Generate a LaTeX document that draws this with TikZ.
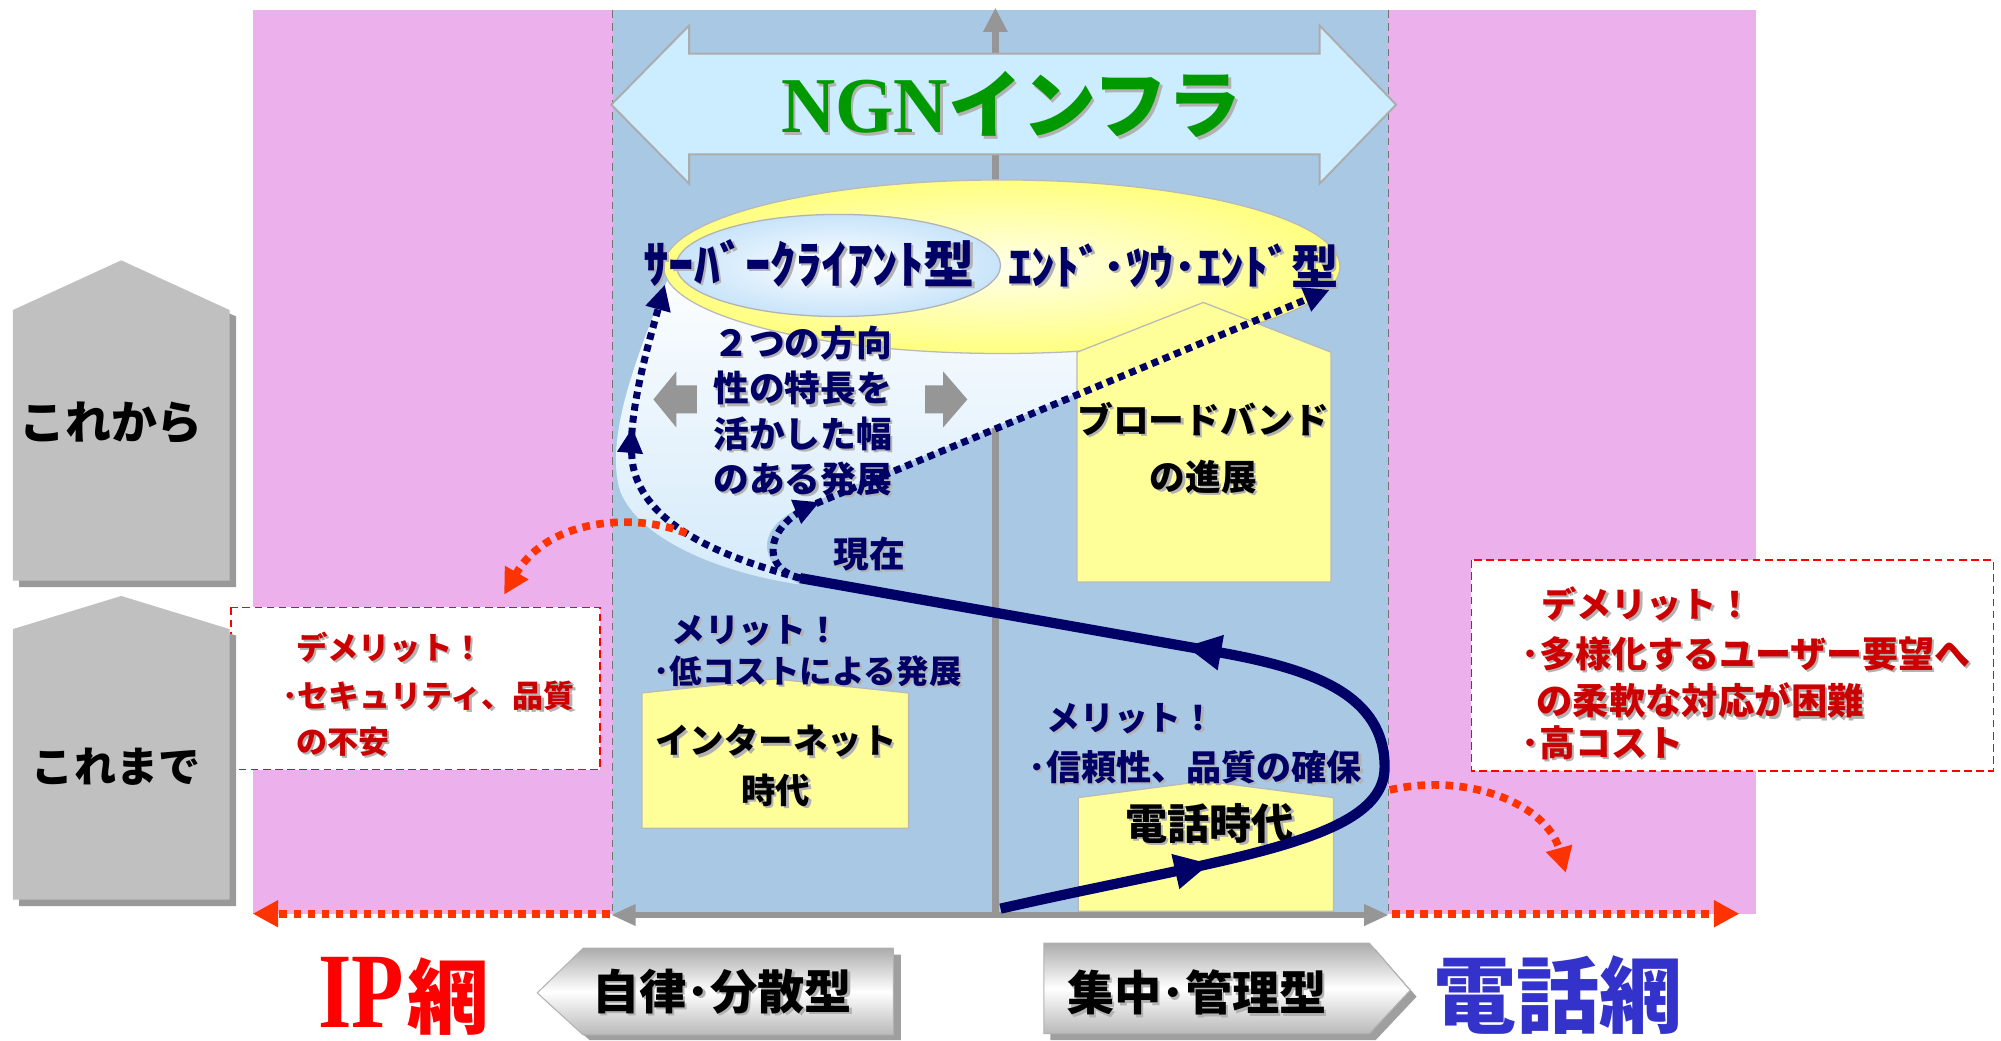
\documentclass[tikz,border=0pt]{standalone}
\usepackage{fontspec}
\usepackage{graphicx}
\newfontfamily\jp{Noto Sans CJK JP}
\newfontfamily\tms{Liberation Serif}
\newfontfamily\tmsn{Liberation Serif}[FakeStretch=0.8]
\newfontfamily\tmsm{Liberation Serif}[FakeStretch=0.95]
\usetikzlibrary{arrows.meta,decorations.markings,calc}
\definecolor{navy}{RGB}{0,0,102}
\definecolor{pinkbg}{RGB}{236,176,236}
\definecolor{bluebg}{RGB}{168,200,228}
\definecolor{ngnblue}{RGB}{204,236,255}
\definecolor{ngngreen}{RGB}{0,153,0}
\definecolor{hyellow}{RGB}{255,255,153}
\definecolor{ellyellow}{RGB}{255,255,128}
\definecolor{ellcenter}{RGB}{255,255,235}
\definecolor{innerblue}{RGB}{200,228,250}
\definecolor{callblue}{RGB}{212,234,250}
\definecolor{dred}{RGB}{204,0,0}
\definecolor{ored}{RGB}{255,51,0}
\definecolor{garr}{RGB}{150,150,150}
\definecolor{pentgray}{RGB}{192,192,192}
\definecolor{telblue}{RGB}{51,51,204}
\newcommand\jf[2]{\fontsize{#1}{#2}\selectfont\jp\bfseries}
\newcommand\shadowlabel[5]{%
  \node[#3,text=black!30] (#1-s) at ($(#2)+(1.8,1.8)$) {#5};
  \node[#3,text=#4] (#1) at (#2) {#5};}
\begin{document}
\begin{tikzpicture}[x=1pt,y=-1pt,
  txt/.style={inner sep=0pt,outer sep=0pt},
  house/.style={fill=hyellow,draw=gray!55,line width=1pt},
  bandline/.style={draw=black!55,line width=1pt,dash pattern=on 6pt off 4pt},
  navydot/.style={draw=navy,line width=5.5pt,dash pattern=on 5.5pt off 4pt},
  reddot/.style={draw=ored,line width=6pt,dash pattern=on 6pt off 5pt},
  navysolid/.style={draw=navy,line width=8pt},
  dembox/.style={fill=white,draw=red,line width=1.2pt,dash pattern=on 6pt off 3.5pt},
  blockarrow/.style={top color=gray!65,bottom color=gray!55,middle color=white,draw=gray!60,line width=0.8pt},
  blockshadow/.style={fill=gray!75},
  pent/.style={fill=pentgray},
  pentshadow/.style={fill=gray!80},
  ngnarrow/.style={fill=ngnblue,draw=gray!65,line width=1.5pt},
  grayblock/.style={fill=garr}
]
\useasboundingbox (0,0) rectangle (1568,815);
\fill[white] (0,0) rectangle (1568,815);

% background bands
\fill[pinkbg] (198,8) rectangle (480,716);
\fill[pinkbg] (1088,8) rectangle (1376,716);
\fill[bluebg] (480,8) rectangle (1088,716);
\draw[bandline] (480,8) -- (480,716);
\draw[bandline] (1088,8) -- (1088,716);

% gray axes
\coordinate (axB) at (780,716);
\coordinate (axT) at (780,6);
\draw[draw=garr,line width=6pt,-{Triangle[length=19pt,width=18pt]}] (axB) -- (axT);
\coordinate (axL) at (479,717);
\coordinate (axR) at (1088,717);
\draw[draw=garr,line width=4pt,{Triangle[length=19pt,width=16pt]}-{Triangle[length=19pt,width=16pt]}] (axL) -- (axR);

% callout region
\shade[top color=white,bottom color=callblue] (526,212) .. controls (505,265) and (472,340) .. (486,385) .. controls (502,425) and (570,450) .. (627,458) .. controls (590,440) and (592,410) .. (636,394) -- (844,308) -- (844,250) -- (700,200) -- cycle;

% ellipses
\path[draw=gray!55,line width=1pt,inner color=ellcenter,outer color=ellyellow] (785,209) ellipse [x radius=265pt,y radius=68pt];
\path[draw=gray!60,line width=1pt,inner color=white,outer color=innerblue] (657,208) ellipse [x radius=127pt,y radius=40pt];

% NGN arrow
\draw[ngnarrow] (479,82) -- (540,20) -- (540,42) -- (1034,42) -- (1034,20) -- (1094,82) -- (1034,144) -- (1034,121) -- (540,121) -- (540,144) -- cycle;
\shadowlabel{ngn}{612,82}{txt,anchor=west}{ngngreen}{\fontsize{62}{70}\selectfont\tmsm\bfseries NGN\jf{58}{62}インフラ}

% houses
\draw[house] (844,276) -- (943,237) -- (1043,276) -- (1043,456) -- (844,456) -- cycle;
\draw[house] (503,543) -- (607,532) -- (712,543) -- (712,649) -- (503,649) -- cycle;
\draw[house] (845,625) -- (944,612) -- (1045,625) -- (1045,714) -- (845,714) -- cycle;

% gray small arrows
\fill[grayblock] (512,313) -- (530,291) -- (530,302) -- (546,302) -- (546,324) -- (530,324) -- (530,335) -- cycle;
\fill[grayblock] (758,313) -- (739,291) -- (739,302) -- (725,302) -- (725,324) -- (739,324) -- (739,335) -- cycle;

% texts in ellipse and callout
\shadowlabel{sc}{504,206}{txt,anchor=west,font=\jf{40}{46}}{navy}{ｻｰﾊﾞｰｸﾗｲｱﾝﾄ型}
\shadowlabel{e2e}{790,208}{txt,anchor=west,font=\jf{37}{44}}{navy}{ｴﾝﾄﾞ･ﾂｳ･ｴﾝﾄﾞ型}
\shadowlabel{two}{629,322}{txt,align=center,font=\jf{28}{35.5}}{navy}{２つの方向\\性の特長を\\活かした幅\\のある発展}
\shadowlabel{bb}{943,351}{txt,align=center,font=\jf{28}{45}}{black}{ブロードバンド\\の進展}
\shadowlabel{inet}{608,600}{txt,align=center,font=\jf{27}{39}}{black}{インターネット\\時代}
\shadowlabel{tel}{948,645}{txt,font=\jf{33}{40}}{black}{電話時代}
\shadowlabel{now}{681,434}{txt,font=\jf{28}{34}}{navy}{現在}
\shadowlabel{meritL}{526,494}{txt,anchor=west,font=\jf{26.5}{32}}{navy}{メリット！}
\shadowlabel{meritL2}{512,526}{txt,anchor=west,font=\jf{25.5}{32}}{navy}{･低コストによる発展}
\shadowlabel{meritR}{820,563}{txt,anchor=west,font=\jf{26.5}{32}}{navy}{メリット！}
\shadowlabel{meritR2}{806,601}{txt,anchor=west,font=\jf{27.5}{32}}{navy}{･信頼性、品質の確保}

% navy dotted development arrows
\coordinate (cur) at (627,453);
\coordinate (scEnd) at (521,223);
\coordinate (e2eEnd) at (1042,227);
\draw[navydot,-{Triangle[length=20pt,width=19pt]},postaction={decorate},decoration={markings,mark=at position 0.63 with {\arrow{Triangle[length=20pt,width=19pt]}}}] (cur) .. controls (560,435) and (505,410) .. (496,365) .. controls (490,330) and (508,270) .. (scEnd);
\draw[navydot,-{Triangle[length=20pt,width=19pt]},postaction={decorate},decoration={markings,mark=at position 0.17 with {\arrow{Triangle[length=20pt,width=19pt]}}}] (cur) .. controls (595,445) and (600,412) .. (636,396) -- (e2eEnd);

% navy solid history curve
\coordinate (hStart) at (784,712);
\draw[navysolid,postaction={decorate},decoration={markings,mark=at position 0.2 with {\arrow{Triangle[length=28pt,width=26pt]}},mark=at position 0.635 with {\arrow{Triangle[length=28pt,width=26pt]}}}] (hStart) .. controls (960,672) and (1085,660) .. (1085,601) .. controls (1085,545) and (1030,525) .. (960,512) -- (cur);

% red dotted arrows
\coordinate (rA) at (538,418);
\coordinate (rAend) at (395,466);
\draw[reddot,-{Triangle[length=20pt,width=20pt]}] (rA) .. controls (500,402) and (430,405) .. (rAend);
\coordinate (rB) at (1089,619);
\coordinate (rBend) at (1227,684);
\draw[reddot,-{Triangle[length=20pt,width=20pt]}] (rB) .. controls (1150,605) and (1212,630) .. (rBend);
\coordinate (rC) at (478,716);
\coordinate (rCend) at (198,716);
\draw[reddot,-{Triangle[length=20pt,width=20pt]}] (rC) -- (rCend);
\coordinate (rD) at (1091,716);
\coordinate (rDend) at (1363,716);
\draw[reddot,-{Triangle[length=20pt,width=20pt]}] (rD) -- (rDend);

% demerit boxes
\draw[dembox] (181,476) rectangle (470,603);
\shadowlabel{demL}{232,507}{txt,anchor=west,font=\jf{24.5}{30}}{dred}{デメリット！}
\shadowlabel{demL2}{221,545}{txt,anchor=west,font=\jf{24.3}{30}}{dred}{･セキュリティ、品質}
\shadowlabel{demL3}{232,581}{txt,anchor=west,font=\jf{24.3}{30}}{dred}{の不安}
\draw[dembox] (1153,439) rectangle (1562,604);
\shadowlabel{demR}{1208,473}{txt,anchor=west,font=\jf{27.5}{32}}{dred}{デメリット！}
\shadowlabel{demR2}{1192,512}{txt,anchor=west,font=\jf{28.2}{32}}{dred}{･多様化するユーザー要望へ}
\shadowlabel{demR3}{1204,549}{txt,anchor=west,font=\jf{28.5}{32}}{dred}{の柔軟な対応が困難}
\shadowlabel{demR4}{1192,582}{txt,anchor=west,font=\jf{28.2}{32}}{dred}{･高コスト}

% left pentagons
\fill[pentshadow] (15,248) -- (100,209) -- (185,248) -- (185,460) -- (15,460) -- cycle;
\fill[pent] (10,243) -- (95,204) -- (180,243) -- (180,455) -- (10,455) -- cycle;
\node[txt,font=\jf{36}{40}] (future) at (87,331) {これから};
\fill[pentshadow] (15,498) -- (100,472) -- (185,498) -- (185,710) -- (15,710) -- cycle;
\fill[pent] (10,493) -- (95,467) -- (180,493) -- (180,705) -- (10,705) -- cycle;
\node[txt,font=\jf{33}{38}] (past) at (91,601) {これまで};

% bottom labels
\fill[blockshadow] (426,783) -- (462,748) -- (706,748) -- (706,815) -- (462,815) -- cycle;
\path[blockarrow] (421,778) -- (457,743) -- (700,743) -- (700,811) -- (457,811) -- cycle;
\shadowlabel{auto}{566,777}{txt,font=\jf{37}{42}}{black}{自律･分散型}
\fill[blockshadow] (823,744) -- (1078,744) -- (1110,781) -- (1078,815) -- (823,815) -- cycle;
\path[blockarrow] (818,739) -- (1073,739) -- (1105,776) -- (1073,810) -- (818,810) -- cycle;
\shadowlabel{cent}{938,778}{txt,font=\jf{37}{42}}{black}{集中･管理型}
\node[inner sep=1pt,text=red,anchor=base east] (ip) at (318,805) {\fontsize{84}{90}\selectfont\tmsn\bfseries IP};
\node[inner sep=1pt,text=red,anchor=base west,font=\jf{64}{70}] (ipnet) at (ip.base east) {網};
\node[txt,text=telblue,font=\jf{65}{70}] (telnet) at (1221,780) {電話網};
\end{tikzpicture}
\end{document}
